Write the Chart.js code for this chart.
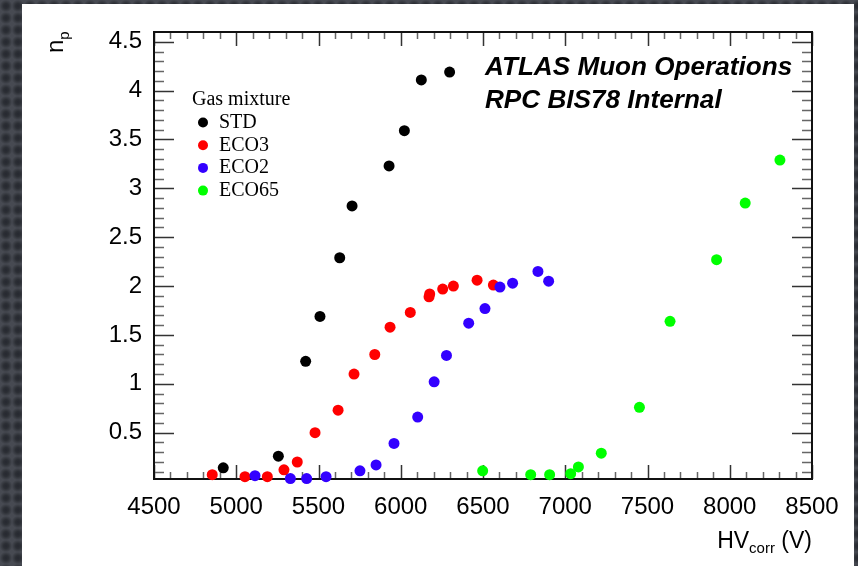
<!DOCTYPE html>
<html>
<head>
<meta charset="utf-8">
<script src="https://cdn.jsdelivr.net/npm/chart.js@4.4.0/dist/chart.umd.min.js"></script>
<style>
html, body { margin: 0; padding: 0; }
body {
    width: 858px;
    height: 566px;
    overflow: hidden;
    background-color: #33363c;
    background-image: radial-gradient(circle at center, #262830 0, #2c2f35 30%, #474a52 75%);
    background-size: 12px 12px;
}
.card {
    position: absolute;
    left: 22px;
    top: 4px;
    width: 832px;
    height: 562px;
    background: #fff;
}
</style>
</head>
<body>
<div class="card"><canvas id="chart"></canvas></div>
<script>
// Data (HV in volts, n_p)
const stdHV = [4921, 5256, 5422, 5509, 5629, 5704, 5929, 6022, 6125, 6297];
const stdNp = [0.14, 0.26, 1.23, 1.69, 2.29, 2.82, 3.23, 3.59, 4.11, 4.19];

const eco3HV = [4854, 5053, 5189, 5290, 5371, 5479, 5619, 5716, 5842, 5935, 6058, 6172, 6176, 6255, 6320, 6464, 6563];
const eco3Np = [0.07, 0.05, 0.05, 0.12, 0.20, 0.50, 0.73, 1.10, 1.30, 1.58, 1.73, 1.89, 1.92, 1.97, 2.00, 2.06, 2.01];

const eco2HV = [5114, 5329, 5428, 5546, 5752, 5850, 5959, 6103, 6203, 6278, 6413, 6512, 6603, 6680, 6834, 6899];
const eco2Np = [0.06, 0.03, 0.03, 0.05, 0.11, 0.17, 0.39, 0.66, 1.02, 1.29, 1.62, 1.77, 1.99, 2.03, 2.15, 2.05];

const eco65HV = [6498, 6790, 6905, 7033, 7080, 7219, 7451, 7637, 7920, 8094, 8305];
const eco65Np = [0.11, 0.07, 0.07, 0.08, 0.15, 0.29, 0.76, 1.64, 2.27, 2.85, 3.29];

const seriesNames = ["STD", "ECO3", "ECO2", "ECO65"];
const seriesColors = ["#000000", "#ff0000", "#3300ff", "#00ff00"];

// Axis ticks
const xTicks = [4500, 5000, 5500, 6000, 6500, 7000, 7500, 8000, 8500];
const yTicks = [0.5, 1, 1.5, 2, 2.5, 3, 3.5, 4, 4.5];
const xMinorStep = 100;
const yMinorStep = 0.1;

const tickFont = { family: "'Liberation Sans', Arial, Helvetica, sans-serif", size: 24 };

function toPoints(xs, ys) {
    return xs.map((x, i) => ({ x: x, y: ys[i] }));
}

// ROOT-style frame with inward ticks on all four sides
const framePlugin = {
    id: "frame",
    beforeDatasetsDraw(chart) {
        const { ctx, chartArea: a, scales: { x, y } } = chart;
        ctx.save();
        ctx.lineWidth = 1.5;

        const nx = Math.round((x.max - x.min) / xMinorStep);
        for (let i = 0; i <= nx; i++) {
            const v = x.min + i * xMinorStep;
            const px = Math.round(x.getPixelForValue(v)) + 0.5;
            const major = xTicks.includes(v);
            const len = major ? 14 : 7;
            ctx.strokeStyle = major ? "#333" : "#666";
            ctx.beginPath();
            ctx.moveTo(px, a.bottom); ctx.lineTo(px, a.bottom - len);
            ctx.moveTo(px, a.top); ctx.lineTo(px, a.top + len);
            ctx.stroke();
        }

        for (let i = 1; i * yMinorStep <= y.max; i++) {
            const v = Math.round(i * yMinorStep * 10) / 10;
            if (v < y.min) continue;
            const py = Math.round(y.getPixelForValue(v)) + 0.5;
            const major = yTicks.includes(v);
            const len = major ? 20 : 10;
            ctx.strokeStyle = major ? "#333" : "#666";
            ctx.beginPath();
            ctx.moveTo(a.left, py); ctx.lineTo(a.left + len, py);
            ctx.moveTo(a.right, py); ctx.lineTo(a.right - len, py);
            ctx.stroke();
        }

        ctx.strokeStyle = "#111";
        ctx.lineWidth = 2;
        ctx.strokeRect(a.left, a.top, a.right - a.left, a.bottom - a.top);
        ctx.restore();
    },
    afterDraw(chart) {
        const { ctx, chartArea: a } = chart;
        ctx.save();
        ctx.fillStyle = "#000";
        ctx.textBaseline = "alphabetic";
        ctx.textAlign = "left";

        // ATLAS label, slightly widened like the original
        ctx.save();
        ctx.translate(463, 0);
        ctx.scale(1.045, 1);
        ctx.font = "italic bold 25px 'Liberation Sans', Arial, sans-serif";
        ctx.fillText("ATLAS Muon Operations", 0, 71);
        ctx.fillText("RPC BIS78 Internal", 0, 104);
        ctx.restore();

        // Legend
        ctx.font = "20px 'Liberation Serif', 'Times New Roman', serif";
        ctx.fillText("Gas mixture", 170, 101);
        seriesNames.forEach((name, i) => {
            const base = 124 + i * 22.7;
            ctx.fillStyle = seriesColors[i];
            ctx.beginPath();
            ctx.arc(181, base - 5.5, 5, 0, Math.PI * 2);
            ctx.fill();
            ctx.fillStyle = "#000";
            ctx.fillText(name, 197, base);
        });

        // x axis title: HV_corr (V), right aligned with frame
        const big = "23px 'Liberation Sans', Arial, sans-serif";
        const small = "15px 'Liberation Sans', Arial, sans-serif";
        ctx.font = big;
        const wHV = ctx.measureText("HV").width;
        const wV = ctx.measureText(" (V)").width;
        ctx.font = small;
        const wSub = ctx.measureText("corr").width;
        const tx = a.right - (wHV + wSub + wV);
        const ty = 544;
        ctx.font = big;
        ctx.fillText("HV", tx, ty);
        ctx.font = small;
        ctx.fillText("corr", tx + wHV, ty + 5);
        ctx.font = big;
        ctx.fillText(" (V)", tx + wHV + wSub, ty);

        // y axis title: n_p, rotated
        ctx.translate(41, 49);
        ctx.rotate(-Math.PI / 2);
        ctx.font = "24px 'Liberation Sans', Arial, sans-serif";
        ctx.fillText("n", 0, 0);
        const wn = ctx.measureText("n").width;
        ctx.font = "15px 'Liberation Sans', Arial, sans-serif";
        ctx.fillText("p", wn, 6);
        ctx.restore();
    }
};

const ctx = document.getElementById("chart").getContext("2d");

const chart = new Chart(ctx, {
    type: "scatter",
    data: {
        datasets: [
            { label: "STD", data: toPoints(stdHV, stdNp), order: 4 },
            { label: "ECO3", data: toPoints(eco3HV, eco3Np), order: 3 },
            { label: "ECO2", data: toPoints(eco2HV, eco2Np), order: 2 },
            { label: "ECO65", data: toPoints(eco65HV, eco65Np), order: 1 }
        ].map((d, i) => Object.assign(d, {
            backgroundColor: seriesColors[i],
            borderColor: seriesColors[i],
            borderWidth: 0,
            pointRadius: 5.5,
            pointHoverRadius: 5.5,
            clip: false
        }))
    },
    options: {
        responsive: true,
        maintainAspectRatio: false,
        animation: false,
        layout: { padding: { top: 28, right: 42, left: 0, bottom: 0 } },
        plugins: {
            legend: { display: false },
            tooltip: { enabled: false }
        },
        scales: {
            x: {
                type: "linear",
                min: 4500,
                max: 8500,
                grid: { display: false },
                border: { display: false },
                ticks: {
                    font: tickFont,
                    color: "#000",
                    padding: 6,
                    maxRotation: 0,
                    autoSkip: false,
                    callback: (v) => String(v)
                },
                afterBuildTicks: (s) => { s.ticks = xTicks.map(v => ({ value: v })); },
                afterFit: (s) => { s.height = 87; }
            },
            y: {
                type: "linear",
                min: 0.026,
                max: 4.6,
                grid: { display: false },
                border: { display: false },
                ticks: {
                    font: tickFont,
                    color: "#000",
                    padding: 4,
                    autoSkip: false,
                    callback: (v) => String(v)
                },
                afterBuildTicks: (s) => { s.ticks = yTicks.map(v => ({ value: v })); },
                afterFit: (s) => { s.width = 132; }
            }
        }
    },
    plugins: [framePlugin]
});
</script>
</body>
</html>
